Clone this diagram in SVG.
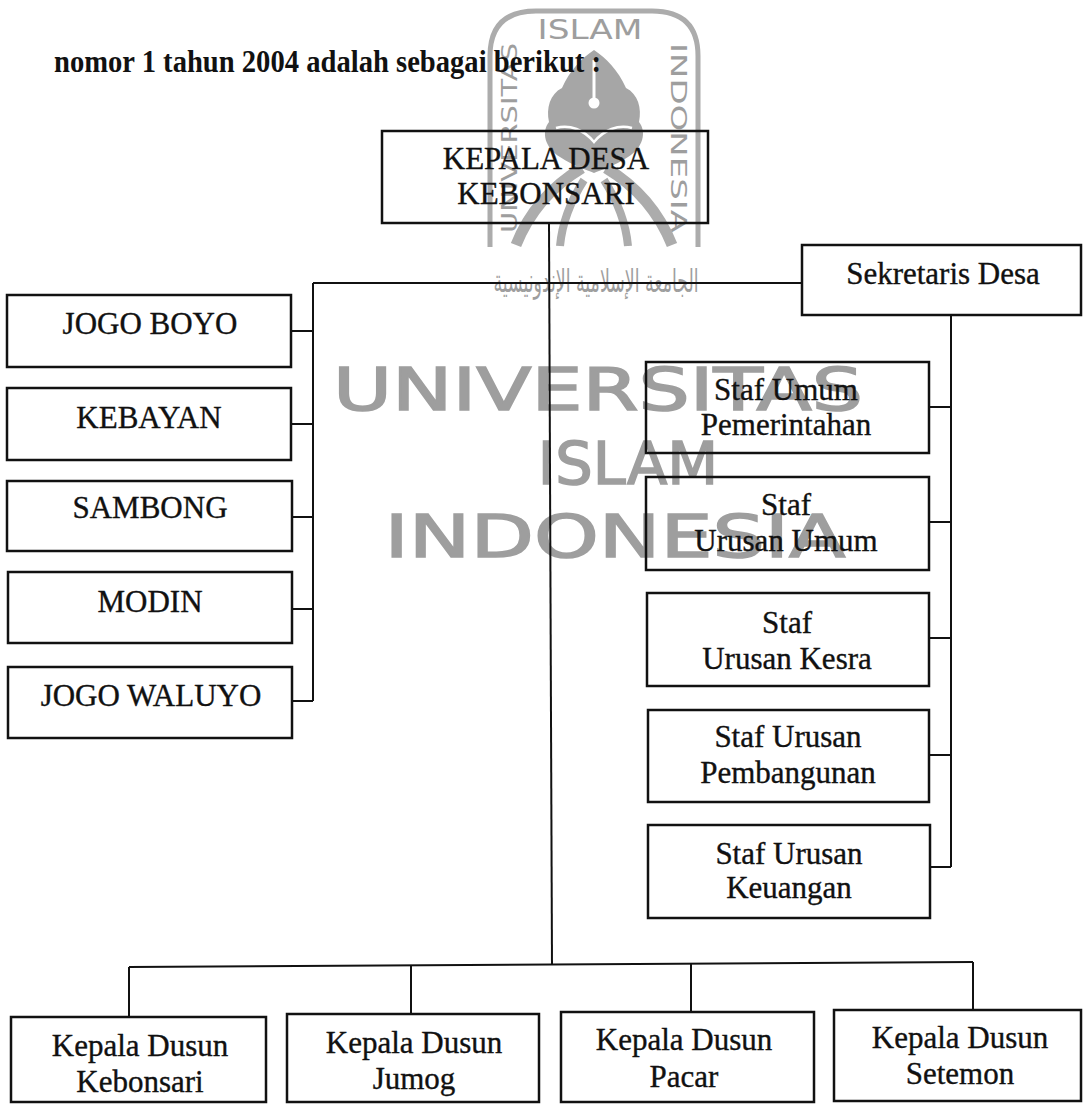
<svg xmlns="http://www.w3.org/2000/svg" width="1083" height="1104" viewBox="0 0 1083 1104">
<style>
.box{fill:none;stroke:#111;stroke-width:2.5}
.ln{fill:none;stroke:#111;stroke-width:2}
.lbl{font-family:"Liberation Serif","Times New Roman",serif;font-size:31px;fill:#111;stroke:#111;stroke-width:0.35;text-anchor:middle}
.title{font-family:"Liberation Serif","Times New Roman",serif;font-weight:bold;font-size:32px;fill:#111}
.wm{font-family:"DejaVu Sans","Liberation Sans",sans-serif;fill:#9e9e9e;text-anchor:middle}
.wmb{stroke:#9e9e9e;stroke-width:1.6}
.wmf{fill:#a6a6a6}
.wms{fill:none;stroke:#acacac}
</style>
<rect x="0" y="0" width="1083" height="1104" fill="#fff"/>

<g id="watermark">
  <path class="wms" stroke-width="5" d="M490 247 L490 56 Q490 11 536 11 L652 11 Q698 11 698 56 L698 247"/>
  <text class="wm" x="590" y="39" font-size="26" textLength="105" lengthAdjust="spacingAndGlyphs">ISLAM</text>
  <text class="wm" font-size="21" textLength="190" lengthAdjust="spacingAndGlyphs" transform="translate(517,138) rotate(-90)">UNIVERSITAS</text>
  <text class="wm" font-size="21" textLength="190" lengthAdjust="spacingAndGlyphs" transform="translate(671,138) rotate(90)">INDONESIA</text>
  <path class="wmf" d="M594 50 C582 58 570 70 562 88 C550 94 546 108 549 122 C541 132 545 148 560 157 C574 166 587 170 594 173 C601 170 614 166 628 157 C643 148 647 132 639 122 C642 108 638 94 626 88 C618 70 606 58 594 50 Z"/>
  <path d="M556 128 C570 124 584 130 594 142 C604 130 618 124 632 128" fill="none" stroke="#fff" stroke-width="2.5"/>
  <line x1="594" y1="60" x2="594" y2="98" stroke="#fff" stroke-width="3"/>
  <circle cx="594" cy="103" r="5.5" fill="#fff"/>
  <path class="wms" stroke="#a6a6a6" stroke-width="11" d="M582 168 C552 186 530 210 516 245"/>
  <path class="wms" stroke="#a6a6a6" stroke-width="11" d="M606 168 C636 186 658 210 672 245"/>
  <path class="wms" stroke="#a6a6a6" stroke-width="8" d="M584 180 C570 202 562 224 560 246"/>
  <path class="wms" stroke="#a6a6a6" stroke-width="8" d="M604 180 C618 202 626 224 628 246"/>
  <text class="wm" font-size="14" textLength="205" lengthAdjust="spacingAndGlyphs" transform="translate(596,292) scale(1,2.3)">الجامعة الإسلامية الإندونيسية</text>
  <text class="wm wmb" x="598" y="410" font-size="59" textLength="530" lengthAdjust="spacingAndGlyphs">UNIVERSITAS</text>
  <text class="wm wmb" x="628" y="484" font-size="59">ISLAM</text>
  <text class="wm wmb" x="615" y="557" font-size="59" textLength="461" lengthAdjust="spacingAndGlyphs">INDONESIA</text>
</g>

<text class="title" x="54" y="72" textLength="547" lengthAdjust="spacingAndGlyphs">nomor 1 tahun 2004 adalah sebagai berikut :</text>

<g id="connectors">
  <path class="ln" d="M549 223 L552 965"/>
  <path class="ln" d="M313 283 L802 283"/>
  <path class="ln" d="M313 283 L313 701"/>
  <path class="ln" d="M291 331 L313 331 M291 424 L313 424 M291 517 L313 517 M292 609 L313 609 M292 701 L313 701"/>
  <path class="ln" d="M951 315 L951 867"/>
  <path class="ln" d="M929 407 L951 407 M929 522 L951 522 M929 638 L951 638 M929 755 L951 755 M930 867 L951 867"/>
  <path class="ln" d="M129 967 L973 962"/>
  <path class="ln" d="M129 967 L129 1017 M411 966 L411 1014 M691 964 L691 1012 M973 962 L973 1010"/>
</g>

<g id="kepala-desa">
  <rect class="box" x="382" y="131" width="326" height="92"/>
  <text class="lbl" x="546" y="169">KEPALA DESA</text>
  <text class="lbl" x="546" y="204">KEBONSARI</text>
</g>

<g id="sekretaris-desa">
  <rect class="box" x="802" y="245" width="279" height="70"/>
  <text class="lbl" x="943" y="284">Sekretaris Desa</text>
</g>

<g id="jogo-boyo">
  <rect class="box" x="7" y="295" width="284" height="72"/>
  <text class="lbl" x="150" y="334">JOGO BOYO</text>
</g>
<g id="kebayan">
  <rect class="box" x="7" y="388" width="284" height="72"/>
  <text class="lbl" x="149" y="428">KEBAYAN</text>
</g>
<g id="sambong">
  <rect class="box" x="7" y="481" width="285" height="70"/>
  <text class="lbl" x="150" y="518">SAMBONG</text>
</g>
<g id="modin">
  <rect class="box" x="8" y="572" width="284" height="71"/>
  <text class="lbl" x="150" y="612">MODIN</text>
</g>
<g id="jogo-waluyo">
  <rect class="box" x="8" y="667" width="284" height="71"/>
  <text class="lbl" x="151" y="706">JOGO WALUYO</text>
</g>

<g id="staf-umum-pemerintahan">
  <rect class="box" x="646" y="362" width="283" height="91"/>
  <text class="lbl" x="786" y="400">Staf Umum</text>
  <text class="lbl" x="786" y="435">Pemerintahan</text>
</g>
<g id="staf-urusan-umum">
  <rect class="box" x="646" y="477" width="283" height="93"/>
  <text class="lbl" x="786" y="515">Staf</text>
  <text class="lbl" x="786" y="551">Urusan Umum</text>
</g>
<g id="staf-urusan-kesra">
  <rect class="box" x="647" y="593" width="282" height="93"/>
  <text class="lbl" x="787" y="633">Staf</text>
  <text class="lbl" x="787" y="669">Urusan Kesra</text>
</g>
<g id="staf-urusan-pembangunan">
  <rect class="box" x="648" y="710" width="281" height="92"/>
  <text class="lbl" x="788" y="747">Staf Urusan</text>
  <text class="lbl" x="788" y="783">Pembangunan</text>
</g>
<g id="staf-urusan-keuangan">
  <rect class="box" x="648" y="825" width="282" height="93"/>
  <text class="lbl" x="789" y="864">Staf Urusan</text>
  <text class="lbl" x="789" y="898">Keuangan</text>
</g>

<g id="dusun-kebonsari">
  <rect class="box" x="11" y="1017" width="255" height="85"/>
  <text class="lbl" x="140" y="1056">Kepala Dusun</text>
  <text class="lbl" x="140" y="1092">Kebonsari</text>
</g>
<g id="dusun-jumog">
  <rect class="box" x="287" y="1014" width="252" height="88"/>
  <text class="lbl" x="414" y="1053">Kepala Dusun</text>
  <text class="lbl" x="414" y="1089">Jumog</text>
</g>
<g id="dusun-pacar">
  <rect class="box" x="561" y="1012" width="253" height="90"/>
  <text class="lbl" x="684" y="1050">Kepala Dusun</text>
  <text class="lbl" x="684" y="1087">Pacar</text>
</g>
<g id="dusun-setemon">
  <rect class="box" x="834" y="1010" width="247" height="91"/>
  <text class="lbl" x="960" y="1048">Kepala Dusun</text>
  <text class="lbl" x="960" y="1084">Setemon</text>
</g>
</svg>
